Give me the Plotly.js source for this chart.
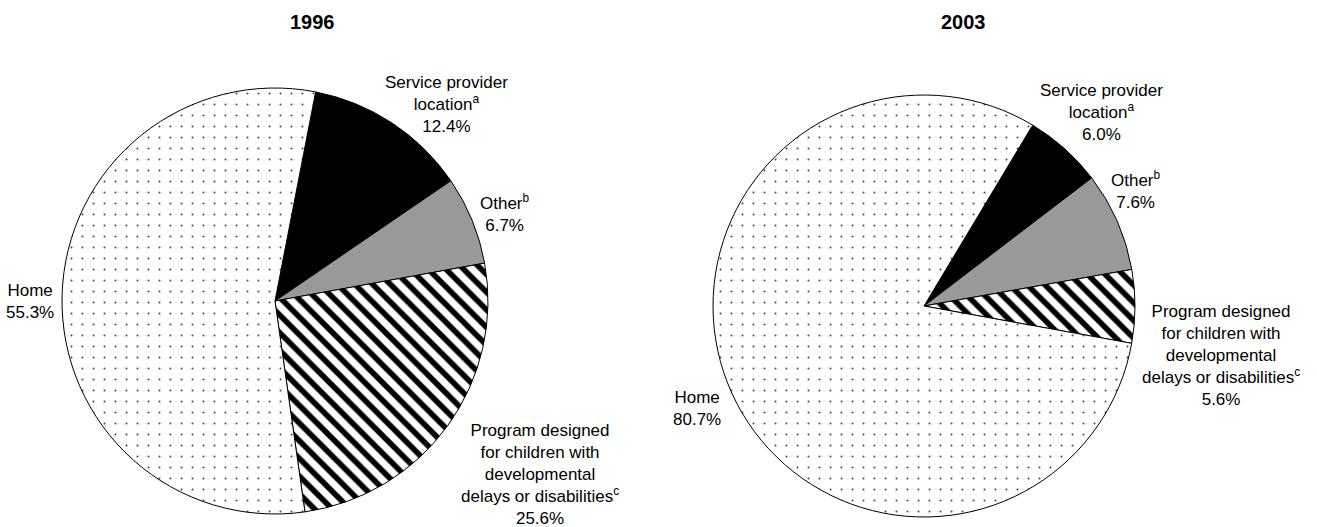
<!DOCTYPE html>
<html>
<head>
<meta charset="utf-8">
<script src="https://cdn.plot.ly/plotly-3.0.1.min.js"></script>
<style>
  html, body { margin: 0; padding: 0; background: #fff; }
  #chart { width: 1317px; height: 527px; }
</style>
</head>
<body>
<div id="chart"></div>
<script>
// slice order runs clockwise from the top
const categories = ['Service provider location', 'Other', 'Program designed for children with developmental delays or disabilities', 'Home'];
const labelLines = [
  'Service provider<br>location<sup>a</sup>',
  'Other<sup>b</sup>',
  'Program designed<br>for children with<br>developmental<br>delays or disabilities<sup>c</sup>',
  'Home'
];
const years = ['1996', '2003'];
const values1996 = [12.4, 6.7, 25.6, 55.3];
const values2003 = [6.0, 7.6, 5.6, 80.7];

const W = 1317, H = 527;
const px = x => x / W;
const py = y => 1 - y / H;

const FONT = 'Arial, "Liberation Sans", sans-serif';

const sliceColors = ['#000000', '#999999', '#ffffff', '#ffffff'];
const pattern = {
  shape: ['', '', '\\', '.'],
  fgcolor: ['#000000', '#000000', '#000000', '#444444'],
  bgcolor: sliceColors,
  size: [8, 8, 12.5, 11],
  solidity: [0.5, 0.5, 0.45, 0.025],
  fillmode: 'replace'
};

// pie boxes in pixels [left, right, top, bottom] and start angle
const pies = [
  { values: values1996, box: [62, 488, 88, 514], rotation: 11 },
  { values: values2003, box: [713, 1135, 95, 517], rotation: 31 }
];

const data = pies.map(p => ({
  type: 'pie',
  labels: categories,
  values: p.values,
  sort: false,
  direction: 'clockwise',
  rotation: p.rotation,
  textinfo: 'none',
  hoverinfo: 'skip',
  showlegend: false,
  marker: {
    colors: sliceColors,
    line: { color: '#000000', width: 1 },
    pattern: pattern
  },
  domain: {
    x: [px(p.box[0]), px(p.box[1])],
    y: [py(p.box[3]), py(p.box[2])]
  }
}));

// label block centres in pixels, one per category
const labelPos = [
  [[446, 104], [505, 213], [540, 474], [30, 301]],
  [[1101, 113], [1136, 190], [1221, 355], [697, 408]]
];
const titlePos = [[312, 22], [963, 22]];

const annotations = [];
[values1996, values2003].forEach((vals, k) => {
  vals.forEach((v, i) => {
    annotations.push({
      xref: 'paper', yref: 'paper',
      x: px(labelPos[k][i][0]), y: py(labelPos[k][i][1]),
      xanchor: 'center', yanchor: 'middle',
      text: labelLines[i] + '<br>' + v.toFixed(1) + '%',
      showarrow: false,
      align: 'center',
      font: { family: FONT, size: 17, color: '#000' }
    });
  });
  annotations.push({
    xref: 'paper', yref: 'paper',
    x: px(titlePos[k][0]), y: py(titlePos[k][1]),
    xanchor: 'center', yanchor: 'middle',
    text: '<b>' + years[k] + '</b>',
    showarrow: false,
    font: { family: FONT, size: 20, color: '#000' }
  });
});

const layout = {
  width: W,
  height: H,
  margin: { l: 0, r: 0, t: 0, b: 0 },
  paper_bgcolor: '#ffffff',
  plot_bgcolor: '#ffffff',
  font: { family: FONT, color: '#000' },
  annotations: annotations
};

Plotly.newPlot('chart', data, layout, { staticPlot: true });
</script>
</body>
</html>
